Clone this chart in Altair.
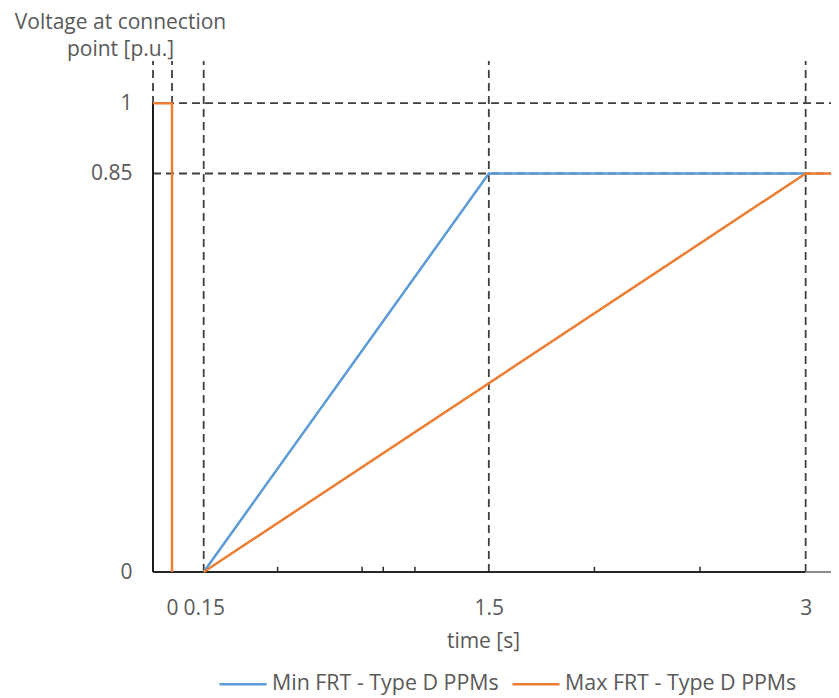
import altair as alt
import pandas as pd

# ---- data ----
series_names = ["Min FRT - Type D PPMs", "Max FRT - Type D PPMs"]
series_colors = ["#5B9BD5", "#ED7D31"]

min_seg = ["a", "a", "a"]
min_t = [0.15, 1.5, 3.0]
min_v = [0.0, 0.85, 0.85]

max_seg = ["b", "b", "b", "c", "c", "c"]
max_t = [-0.09, 0.0, 0.0, 0.15, 3.0, 3.12]
max_v = [1.0, 1.0, 0.0, 0.0, 0.85, 0.85]

x_min, x_max = -0.09, 3.12
y_min, y_max = 0.0, 1.09

x_tick_values = [0, 0.15, 1.5, 3]
y_tick_values = [0, 0.85, 1]
minor_ticks = [0.5, 0.9, 1.0, 1.15, 2.0, 2.5]

v_guides = [-0.09, 0, 0.15, 1.5, 3]
h_guides = [1, 0.85]

FONT = "Open Sans"
GREY = "#595959"
FS = 21

lines_df = pd.DataFrame({
    "t": min_t + max_t,
    "v": min_v + max_v,
    "seg": min_seg + max_seg,
    "series": [series_names[0]] * len(min_t) + [series_names[1]] * len(max_t),
})
vg_df = pd.DataFrame({"x": v_guides, "y0": [y_min] * len(v_guides), "y1": [y_max] * len(v_guides)})
hg_df = pd.DataFrame({"y": h_guides, "x0": [x_min] * len(h_guides), "x1": [x_max] * len(h_guides)})
minor_df = pd.DataFrame({"x": minor_ticks, "y0": [0.0] * len(minor_ticks), "y1": [0.011] * len(minor_ticks)})
xaxis_df = pd.DataFrame({"x0": [x_min, 3.0], "x1": [3.0, x_max], "y": [0.0, 0.0], "c": ["k", "g"]})
yaxis_df = pd.DataFrame({"x": [x_min], "y0": [0.0], "y1": [1.0]})

xs = alt.Scale(domain=[x_min, x_max], nice=False, zero=False)
ys = alt.Scale(domain=[y_min, y_max], nice=False, zero=False)

x_axis = alt.Axis(
    values=x_tick_values, format=".2~f", labelOverlap=False, labelFlush=False, ticks=False, tickSize=0,
    domain=False, grid=False, labelPadding=25, labelFontSize=FS, labelColor=GREY,
    labelFont=FONT, title="time [s]", titleFont=FONT, titleFontSize=FS,
    titleFontWeight="normal", titleColor=GREY, titlePadding=12, titleX=330,
)
y_axis = alt.Axis(
    values=y_tick_values, format=".2~f", ticks=False, tickSize=0, domain=False, grid=False,
    labelPadding=21, labelFontSize=FS, labelColor=GREY, labelFont=FONT,
    title=["Voltage at connection", "point [p.u.]"], titleAngle=0, titleAlign="center",
    titleBaseline="alphabetic", titleX=-33, titleY=-33, titleLineHeight=27,
    titleFont=FONT, titleFontSize=FS, titleFontWeight="normal", titleColor=GREY,
)

vguides = alt.Chart(vg_df).mark_rule(color="#3F3F3F", strokeDash=[8, 5], strokeWidth=1.8).encode(
    x=alt.X("x:Q", scale=xs, axis=x_axis), y=alt.Y("y0:Q", scale=ys, axis=y_axis), y2="y1:Q")
hguides = alt.Chart(hg_df).mark_rule(color="#3F3F3F", strokeDash=[8, 5], strokeWidth=1.8).encode(
    y=alt.Y("y:Q", scale=ys), x=alt.X("x0:Q", scale=xs), x2="x1:Q")
xaxis_line = alt.Chart(xaxis_df).mark_rule(strokeWidth=2).encode(
    y=alt.Y("y:Q", scale=ys), x=alt.X("x0:Q", scale=xs), x2="x1:Q",
    color=alt.Color("c:N", scale=alt.Scale(domain=["k", "g"], range=["#262626", "#8C8C8C"]), legend=None))
yaxis_line = alt.Chart(yaxis_df).mark_rule(color="#1A1A1A", strokeWidth=2).encode(
    x=alt.X("x:Q", scale=xs), y=alt.Y("y0:Q", scale=ys), y2="y1:Q")
minor = alt.Chart(minor_df).mark_rule(color="#262626", strokeWidth=1.5).encode(
    x=alt.X("x:Q", scale=xs), y=alt.Y("y0:Q", scale=ys), y2="y1:Q")

lines = alt.Chart(lines_df).mark_line(strokeWidth=2.5).encode(
    x=alt.X("t:Q", scale=xs),
    y=alt.Y("v:Q", scale=ys),
    detail="seg:N",
    color=alt.Color(
        "series:N",
        scale=alt.Scale(domain=series_names, range=series_colors),
        legend=alt.Legend(
            title=None, orient="none", direction="horizontal", legendX=65, legendY=598,
            symbolType="stroke", symbolSize=2209, symbolStrokeWidth=2.5, labelLimit=0,
            labelFontSize=21.4, labelColor=GREY, labelFont=FONT, columnPadding=8, labelOffset=4,
        ),
    ),
    order=alt.Order("seg:N"),
)

chart = alt.layer(vguides, hguides, xaxis_line, yaxis_line, minor, lines).resolve_scale(
    color="independent"
).properties(
    width=678, height=511,
    autosize=alt.AutoSizeParams(type="none"),
    padding={"left": 145, "top": 53, "right": 0, "bottom": 125},
).configure_view(stroke=None)

chart.save("out.html", embed_options={"renderer": "svg", "actions": False})
